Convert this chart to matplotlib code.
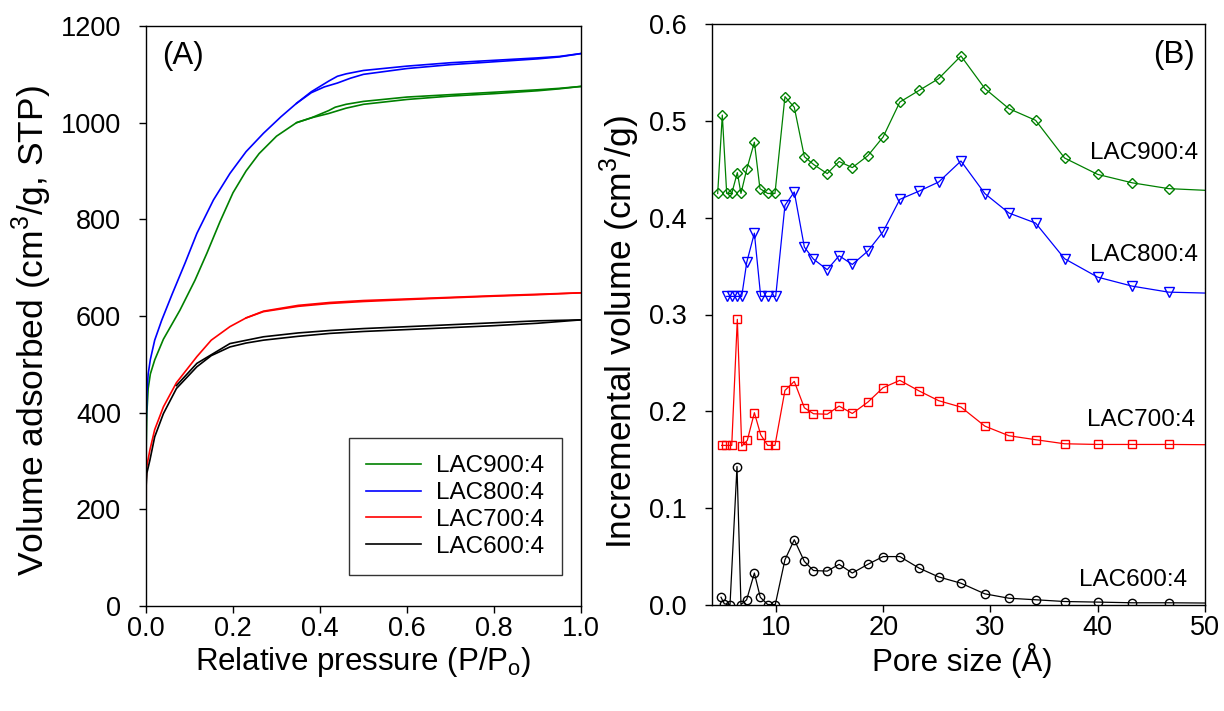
import numpy as np
import matplotlib
matplotlib.use("Agg")
import matplotlib.pyplot as plt

plt.rcParams['font.family'] = ['Liberation Sans', 'DejaVu Sans']
plt.rcParams['mathtext.fontset'] = 'custom'
plt.rcParams['mathtext.rm'] = 'Liberation Sans'

# ---- (A) N2 isotherms: adsorption / desorption branches ----
p_ads_900 = [0.0, 0.0005, 0.002, 0.005, 0.01, 0.02, 0.04, 0.078, 0.1126, 0.14, 0.17, 0.2, 0.23, 0.26, 0.3, 0.346, 0.38, 0.42, 0.46, 0.5, 0.6, 0.7, 0.8, 0.9, 0.95, 1.0]
v_ads_900 = [0, 330, 400, 450, 480, 509, 552, 612, 674, 730, 795, 855, 900, 936, 972, 1000, 1010, 1019, 1030, 1038, 1048, 1055, 1060, 1066, 1070, 1075]
p_des_900 = [1.0, 0.95, 0.9, 0.8, 0.7, 0.6, 0.5, 0.46, 0.435, 0.42, 0.38, 0.346]
v_des_900 = [1075, 1071, 1068, 1063, 1058, 1053, 1044, 1038, 1032, 1025, 1010, 1000]

p_ads_800 = [0.0, 0.0005, 0.002, 0.005, 0.01, 0.02, 0.036, 0.06, 0.09, 0.117, 0.155, 0.193, 0.23, 0.27, 0.31, 0.346, 0.38, 0.41, 0.44, 0.47, 0.5, 0.6, 0.7, 0.8, 0.9, 0.95, 1.0]
v_ads_800 = [0, 380, 440, 480, 510, 550, 591, 645, 710, 771, 840, 895, 940, 978, 1012, 1040, 1062, 1074, 1082, 1092, 1100, 1112, 1120, 1126, 1132, 1136, 1143]
p_des_800 = [1.0, 0.95, 0.9, 0.8, 0.7, 0.6, 0.5, 0.46, 0.44, 0.42, 0.38, 0.346]
v_des_800 = [1143, 1137, 1134, 1129, 1124, 1117, 1108, 1101, 1096, 1086, 1064, 1040]

p_ads_700 = [0.0, 0.0005, 0.002, 0.009, 0.02, 0.04, 0.07, 0.117, 0.15, 0.193, 0.23, 0.27, 0.35, 0.423, 0.5, 0.653, 0.8, 0.9, 1.0]
v_ads_700 = [0, 260, 290, 323, 365, 412, 462, 516, 550, 578, 596, 609, 620, 626, 630, 636, 641, 644, 648]
p_des_700 = [1.0, 0.9, 0.8, 0.653, 0.5, 0.423, 0.35, 0.27, 0.23]
v_des_700 = [648, 645, 642, 637, 632, 628, 622, 610, 596]

p_ads_600 = [0.0, 0.0005, 0.002, 0.009, 0.02, 0.04, 0.07, 0.117, 0.15, 0.193, 0.23, 0.27, 0.35, 0.423, 0.5, 0.653, 0.8, 0.9, 1.0]
v_ads_600 = [0, 250, 275, 302, 350, 398, 450, 495, 518, 536, 544, 550, 558, 564, 568, 574, 580, 585, 592]
p_des_600 = [1.0, 0.9, 0.8, 0.653, 0.5, 0.423, 0.35, 0.27, 0.193, 0.117, 0.07]
v_des_600 = [592, 590, 586, 580, 574, 570, 565, 557, 543, 502, 456]

# ---- (B) pore size distributions (offset curves) ----
w_900 = [4.57, 5.00, 5.41, 5.88, 6.40, 6.74, 7.28, 7.99, 8.51, 9.23, 9.91, 10.84, 11.71, 12.65, 13.5, 14.78, 15.89, 17.12, 18.57, 19.99, 21.55, 23.36, 25.17, 27.25, 29.48, 31.72, 34.21, 36.91, 39.99, 43.21, 46.60, 50.5]
d_900 = [0.425, 0.506, 0.425, 0.425, 0.4465, 0.425, 0.450, 0.478, 0.430, 0.425, 0.425, 0.525, 0.514, 0.463, 0.455, 0.4455, 0.458, 0.4517, 0.464, 0.4833, 0.5194, 0.5315, 0.5436, 0.567, 0.5333, 0.5126, 0.5005, 0.4616, 0.4447, 0.436, 0.430, 0.428]

w_800 = [5.41, 5.88, 6.37, 6.81, 7.28, 7.99, 8.58, 9.27, 9.98, 10.84, 11.71, 12.65, 13.5, 14.78, 15.89, 17.12, 18.57, 19.99, 21.55, 23.36, 25.17, 27.25, 29.48, 31.72, 34.21, 36.91, 39.99, 43.21, 46.60, 50.5]
d_800 = [0.3187, 0.3187, 0.3187, 0.3187, 0.354, 0.384, 0.3187, 0.3187, 0.3187, 0.4127, 0.4265, 0.3696, 0.3572, 0.3463, 0.3607, 0.3517, 0.3655, 0.3855, 0.4189, 0.4275, 0.4368, 0.4585, 0.4248, 0.4048, 0.3944, 0.3576, 0.3386, 0.3293, 0.3231, 0.322]

w_700 = [4.94, 5.32, 5.88, 6.40, 6.81, 7.33, 7.99, 8.58, 9.23, 9.91, 10.84, 11.71, 12.65, 13.5, 14.78, 15.89, 17.12, 18.57, 19.99, 21.55, 23.36, 25.17, 27.25, 29.48, 31.72, 34.21, 36.91, 39.99, 43.21, 46.60, 50.5]
d_700 = [0.1648, 0.1648, 0.1648, 0.295, 0.164, 0.170, 0.1986, 0.1758, 0.1648, 0.1648, 0.2216, 0.2309, 0.2037, 0.1975, 0.197, 0.2054, 0.1978, 0.2095, 0.2244, 0.232, 0.221, 0.211, 0.2044, 0.1847, 0.1748, 0.1707, 0.1665, 0.1658, 0.1658, 0.1658, 0.1655]

w_600 = [4.88, 5.19, 5.72, 6.37, 6.74, 7.27, 7.99, 8.54, 9.23, 9.94, 10.84, 11.71, 12.65, 13.5, 14.78, 15.89, 17.12, 18.57, 19.99, 21.55, 23.36, 25.17, 27.25, 29.48, 31.72, 34.21, 36.91, 39.99, 43.21, 46.60, 50.5]
d_600 = [0.008, 0.0012, 0.0005, 0.143, 0.0005, 0.0054, 0.033, 0.008, 0.0005, 0.0005, 0.0467, 0.0674, 0.045, 0.0356, 0.035, 0.042, 0.033, 0.042, 0.050, 0.050, 0.038, 0.029, 0.0225, 0.0115, 0.007, 0.0054, 0.0036, 0.003, 0.0023, 0.0023, 0.002]

labels = ["LAC900:4", "LAC800:4", "LAC700:4", "LAC600:4"]
colors = ["#008000", "#0000ff", "#ff0000", "#000000"]

fig = plt.figure(figsize=(12.24, 7.11), dpi=100)
ax1 = fig.add_axes([146/1224, 1-606/711, 435/1224, 580/711])
ax2 = fig.add_axes([712/1224, 1-605/711, 493/1224, 581/711])

fs_tick = 19.5
fs_txt = 17.5
fs_xlab = 22.5
fs_ylab = 25.5
fs_panel = 22.5

iso = [(p_ads_900, v_ads_900, p_des_900, v_des_900),
       (p_ads_800, v_ads_800, p_des_800, v_des_800),
       (p_ads_700, v_ads_700, p_des_700, v_des_700),
       (p_ads_600, v_ads_600, p_des_600, v_des_600)]
for (pa, va, pd, vd), lab, c in zip(iso, labels, colors):
    ax1.plot(pa, va, color=c, lw=1.2, label=lab)
    ax1.plot(pd, vd, color=c, lw=1.2)

ax1.set_xlim(0, 1.0)
ax1.set_ylim(0, 1200)
ax1.set_xticks(np.arange(0, 1.01, 0.2))
ax1.set_xticklabels(["0.0", "0.2", "0.4", "0.6", "0.8", "1.0"])
ax1.set_yticks(np.arange(0, 1201, 200))
ax1.set_xlabel("Relative pressure (P/P$_\\mathregular{o}$)", fontsize=fs_xlab, va="center")
ax1.set_ylabel("Volume adsorbed (cm$^\\mathregular{3}$/g, STP)", fontsize=fs_ylab, va="center")
ax1.xaxis.set_label_coords(0.5, -0.097)
ax1.yaxis.set_label_coords(-0.262, 0.475)
ax1.text(0.037, 0.948, "(A)", transform=ax1.transAxes, fontsize=fs_panel, va="center", ha="left")
leg = ax1.legend(loc="lower right", bbox_to_anchor=(0.956, 0.053), borderaxespad=0,
                 fontsize=fs_txt, frameon=True, fancybox=False, edgecolor="black",
                 handlelength=2.26, handletextpad=0.62, labelspacing=0.2, borderpad=0.72)
leg.get_frame().set_linewidth(1.0)

series = [(w_900, d_900, "D", 5.2), (w_800, d_800, "v", 6.7), (w_700, d_700, "s", 5.8), (w_600, d_600, "o", 6.0)]
for (w, d, m, ms), c in zip(series, colors):
    ax2.plot(w, d, color=c, lw=0.9, marker=m, ms=ms, mfc="none", mec=c, mew=1.0)

ax2.set_xlim(4.04, 50)
ax2.set_ylim(0, 0.6)
ax2.set_xticks([10, 20, 30, 40, 50])
ax2.set_yticks(np.arange(0, 0.61, 0.1))
ax2.set_yticklabels(["0.0", "0.1", "0.2", "0.3", "0.4", "0.5", "0.6"])
ax2.set_xlabel("Pore size (Å)", fontsize=fs_xlab, va="center")
ax2.set_ylabel("Incremental volume (cm$^\\mathregular{3}$/g)", fontsize=fs_ylab, va="center")
ax2.xaxis.set_label_coords(0.507, -0.095)
ax2.yaxis.set_label_coords(-0.187, 0.47)
ax2.text(0.98, 0.947, "(B)", transform=ax2.transAxes, fontsize=fs_panel, va="center", ha="right")
ax2.text(49.33, 0.467, "LAC900:4", fontsize=fs_txt, ha="right", va="center")
ax2.text(49.33, 0.361, "LAC800:4", fontsize=fs_txt, ha="right", va="center")
ax2.text(49.05, 0.1906, "LAC700:4", fontsize=fs_txt, ha="right", va="center")
ax2.text(48.31, 0.026, "LAC600:4", fontsize=fs_txt, ha="right", va="center")

for ax in (ax1, ax2):
    ax.tick_params(direction="out", length=5, width=1, labelsize=fs_tick, top=False, right=False)
    ax.tick_params(axis="x", pad=2)
    ax.tick_params(axis="y", pad=13)
    for s in ax.spines.values():
        s.set_linewidth(1.0)

fig.savefig("out.png", dpi=100)
